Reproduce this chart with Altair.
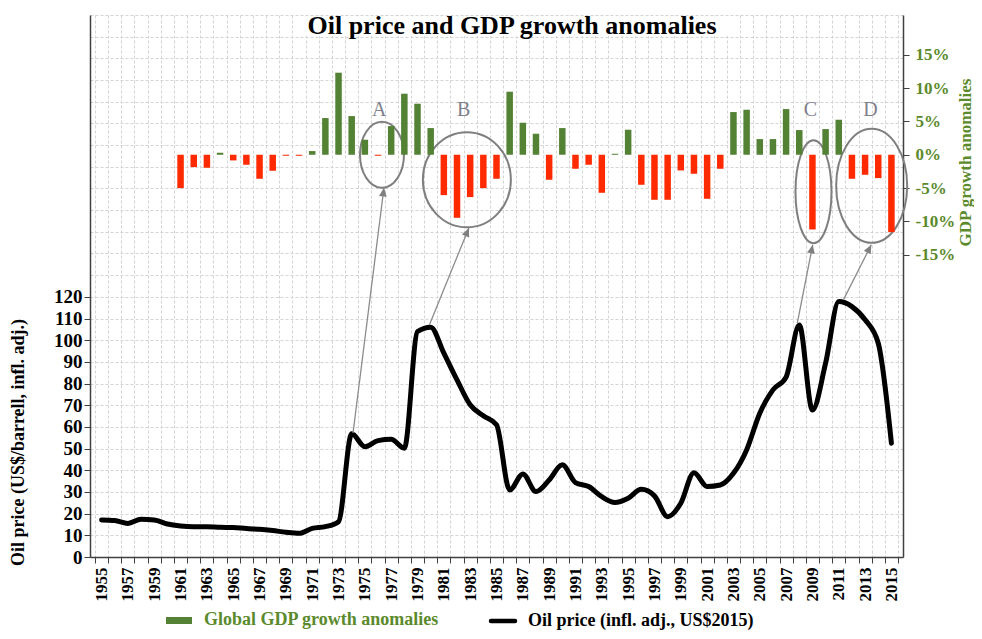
import altair as alt
import pandas as pd

# ---------------- data ----------------
years = list(range(1955, 2016))
oil_price = [17.1, 16.8, 15.5, 17.4, 17.1, 15.2, 14.3, 14.0, 14.0, 13.7,
             13.6, 13.1, 12.8, 12.2, 11.4, 10.9, 13.2, 14.0, 16.3, 56.8,
             50.9, 53.7, 54.3, 50.2, 104.0, 106.0, 94.0, 81.7, 70.2, 65.1,
             61.0, 30.9, 38.3, 30.2, 35.5, 42.5, 34.3, 32.5, 27.8, 25.1,
             27.1, 31.2, 28.2, 18.6, 24.8, 38.9, 32.5, 33.2, 38.6, 49.4,
             66.3, 77.1, 83.0, 107.0, 67.8, 89.4, 117.8, 115.5, 109.4, 98.6,
             52.5]

gdp_years = list(range(1961, 2016))
gdp_anomaly = [-5.0, -1.85, -1.95, 0.3, -0.85, -1.5, -3.6, -2.4, -0.15, -0.15,
               0.55, 5.5, 12.3, 5.8, 2.25, -0.15, 4.3, 9.15, 7.65, 4.0,
               -6.05, -9.45, -6.35, -5.0, -3.6, 9.45, 4.8, 3.15, -3.75, 4.0,
               -2.1, -1.5, -5.7, 0.15, 3.75, -4.5, -6.75, -6.75, -2.35, -2.85,
               -6.6, -2.1, 6.4, 6.75, 2.35, 2.35, 6.85, 3.7, -11.2, 3.85,
               5.25, -3.6, -3.0, -3.5, -11.6]

# annotations (x in years, y in oil-price units)
ann_labels = ["A", "B", "C", "D"]
ann_label_x = [1976.1, 1982.5, 2008.85, 2013.4]
ann_label_y = [206.0, 206.0, 206.0, 206.0]
ell_x = [1976.3, 1982.75, 2009.08, 2013.5]
ell_y = [185.5, 174.0, 168.5, 171.2]
ell_w = [44, 88, 36, 71]      # px
ell_h = [66, 95, 103, 114]    # px
arrow_x0 = [1974.1, 1979.9, 2007.85, 2011.35]
arrow_y0 = [57.2, 107.0, 107.9, 118.6]
arrow_x1 = [1976.45, 1982.9, 2009.02, 2013.47]
arrow_y1 = [170.3, 151.8, 144.0, 144.0]
arrow_angle = [7.3, 22.3, 11.3, 27.3]

title_text = "Oil price and GDP growth anomalies"
legend_gdp = "Global GDP growth anomalies"
legend_oil = "Oil price (infl. adj., US$2015)"

# ---------------- styles ----------------
SERIF = "Liberation Serif"
GREEN = "#548235"
GREEN_TXT = "#5b8a2c"
RED = "#ff2a00"
AXIS_C = "#404040"
GRID_C = "#d4d4d4"
W, H = 813, 542

oil_df = pd.DataFrame({"year": years, "oil": oil_price})
gdp_df = pd.DataFrame({"year": gdp_years, "gdp": gdp_anomaly})
gdp_df["col"] = [GREEN if v >= 0 else RED for v in gdp_anomaly]

xscale = alt.Scale(domain=[1954.5, 2015.5], nice=False, zero=False)
half_years = [y - 0.5 for y in years] + [2015.5]
xaxis = alt.Axis(
    values=half_years,
    labelExpr="(datum.value + 0.5) % 2 == 1 ? format(datum.value + 0.5, 'd') : ''",
    labelOffset=W / 61 / 2,
    labelAngle=270, labelAlign="right", labelBaseline="middle",
    labelFont=SERIF, labelFontWeight="bold", labelFontSize=17, labelColor="black",
    labelPadding=4, labelOverlap=False, labelFlush=False,
    tickSize=6, tickColor=AXIS_C, domainColor=AXIS_C, domainWidth=1.5,
    grid=True, gridColor=GRID_C, gridDash=[3, 2], title=None,
)


def X(field="year"):
    return alt.X(f"{field}:Q", scale=xscale, axis=xaxis)


oil_scale = alt.Scale(domain=[0, 250], nice=False, zero=False)
oil_axis = alt.Axis(
    orient="left",
    values=list(range(0, 251, 10)),
    labelExpr="datum.value <= 120 ? format(datum.value, 'd') : ''",
    tickOpacity={"condition": {"test": "datum.value <= 120", "value": 1}, "value": 0},
    labelFont=SERIF, labelFontWeight="bold", labelFontSize=19, labelColor="black",
    labelPadding=2, labelOverlap=False, labelFlush=False, labelSeparation=0,
    tickSize=6, tickColor=AXIS_C, domainColor=AXIS_C, domainWidth=1.5,
    grid=True, gridColor=GRID_C, gridDash=[3, 2],
    title="Oil price (US$/barrell, infl. adj.)",
    titleFont=SERIF, titleFontWeight="bold", titleFontSize=18, titleColor="black",
    titleAngle=270, titleX=-72, titleY=427, titleAlign="center", titleBaseline="middle",
)


def YO(field):
    return alt.Y(f"{field}:Q", scale=oil_scale, axis=oil_axis)


gdp_scale = alt.Scale(domain=[-60.3, 20.95], nice=False, zero=False)
gdp_axis = alt.Axis(
    orient="right",
    values=[-15, -10, -5, 0, 5, 10, 15],
    labelExpr="datum.value + '%'",
    labelFont=SERIF, labelFontWeight="bold", labelFontSize=17, labelColor=GREEN_TXT,
    labelPadding=6, labelOverlap=False, labelFlush=False,
    tickSize=6, tickColor=AXIS_C, domainColor=AXIS_C, domainWidth=1.5,
    grid=False,
    title="GDP growth anomalies",
    titleFont=SERIF, titleFontWeight="bold", titleFontSize=17, titleColor=GREEN_TXT,
    titleAngle=270, titleX=62, titleY=147, titleAlign="center", titleBaseline="middle",
)

# ---------------- layers ----------------
one = pd.DataFrame({"k": [0]})

title_bg = alt.Chart(one).mark_rect(color="white").encode(
    x=alt.value(208), x2=alt.value(638), y=alt.value(1), y2=alt.value(21))
title = alt.Chart(one).mark_text(
    text=title_text, font=SERIF, fontWeight="bold", fontSize=26, color="black",
    align="center", baseline="middle").encode(x=alt.value(422), y=alt.value(11))

oil_line = alt.Chart(oil_df).mark_line(
    color="black", strokeWidth=5, interpolate="monotone", strokeCap="round").encode(
    x=X(), y=YO("oil"))

arr_df = pd.DataFrame({"year": arrow_x0, "y0": arrow_y0, "year2": arrow_x1,
                       "y1": arrow_y1, "ang": arrow_angle})
arrows = alt.Chart(arr_df).mark_rule(color="#8c8c8c", strokeWidth=1.3).encode(
    x=X(), y=YO("y0"), x2="year2:Q", y2="y1:Q")
heads = alt.Chart(arr_df).mark_point(
    shape="M 0 0 L -0.45 1 L 0.45 1 Z", filled=True, color="#808080",
    size=300, opacity=1).encode(
    x=X("year2"), y=YO("y1"),
    angle=alt.Angle("ang:Q", scale=None))


def ellipse_path(w, h):
    m = max(w, h)
    a, b = w / m, h / m
    k = 0.5523
    return (f"M {-a:.4f} 0 C {-a:.4f} {-k*b:.4f} {-k*a:.4f} {-b:.4f} 0 {-b:.4f} "
            f"C {k*a:.4f} {-b:.4f} {a:.4f} {-k*b:.4f} {a:.4f} 0 "
            f"C {a:.4f} {k*b:.4f} {k*a:.4f} {b:.4f} 0 {b:.4f} "
            f"C {-k*a:.4f} {b:.4f} {-a:.4f} {k*b:.4f} {-a:.4f} 0 Z")


ellipses = []
for i in range(4):
    e_df = pd.DataFrame({"year": [ell_x[i]], "yy": [ell_y[i]]})
    ellipses.append(
        alt.Chart(e_df).mark_point(
            shape=ellipse_path(ell_w[i], ell_h[i]), filled=False,
            stroke="#7f7f7f", strokeWidth=2, opacity=1,
            size=max(ell_w[i], ell_h[i]) ** 2).encode(
            x=X(), y=YO("yy")))

lab_df = pd.DataFrame({"year": ann_label_x, "yy": ann_label_y, "t": ann_labels})
letters = alt.Chart(lab_df).mark_text(
    font=SERIF, fontSize=20, color="#7f7f8c", baseline="middle", align="center").encode(
    x=X(), y=YO("yy"), text="t:N")

# legend (manual)
leg_rect = alt.Chart(one).mark_rect(color=GREEN).encode(
    x=alt.value(76), x2=alt.value(102), y=alt.value(602), y2=alt.value(609))
leg_t1 = alt.Chart(one).mark_text(
    text=legend_gdp, font=SERIF, fontWeight="bold", fontSize=18, color=GREEN_TXT,
    align="left", baseline="middle").encode(x=alt.value(114), y=alt.value(605))
leg_line = alt.Chart(one).mark_rule(color="black", strokeWidth=4.5, strokeCap="round").encode(
    x=alt.value(401), x2=alt.value(425), y=alt.value(606))
leg_t2 = alt.Chart(one).mark_text(
    text=legend_oil, font=SERIF, fontWeight="bold", fontSize=18, color="black",
    align="left", baseline="middle").encode(x=alt.value(438), y=alt.value(606))

bars = alt.Chart(gdp_df).mark_bar(width=6.5).encode(
    x=X(),
    y=alt.Y("gdp:Q", scale=gdp_scale, axis=gdp_axis),
    y2=alt.datum(0),
    color=alt.Color("col:N", scale=None),
)

left_group = alt.layer(title_bg, title, oil_line, arrows, heads, *ellipses, letters,
                       leg_rect, leg_t1, leg_line, leg_t2)

chart = alt.layer(left_group, bars).resolve_scale(y="independent").properties(
    width=W, height=H,
    autosize=alt.AutoSizeParams(type="none"),
    padding={"left": 82, "top": 7, "right": 71, "bottom": 73},
).configure_view(stroke=None).configure_axis(labelOverlap=False)

chart.save("out.html", embed_options={"renderer": "svg", "actions": False})
